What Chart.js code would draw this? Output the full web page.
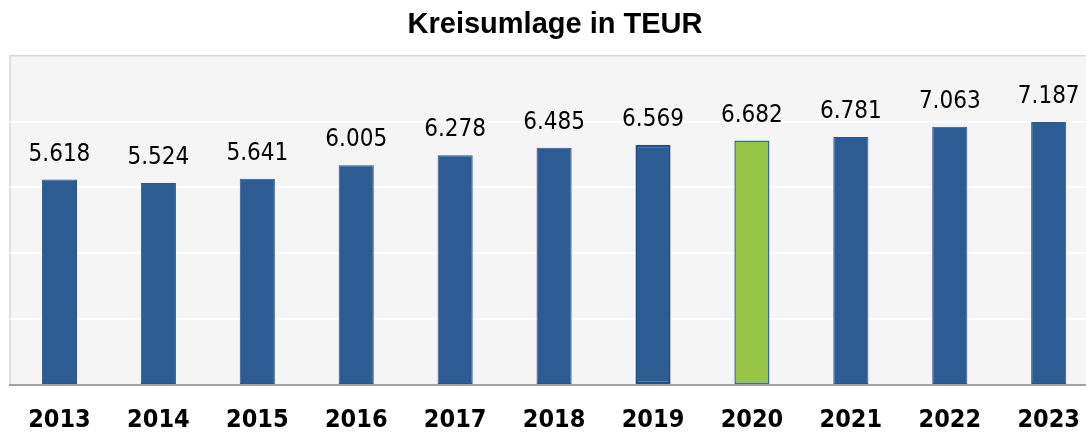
<!DOCTYPE html>
<html>
<head>
<meta charset="utf-8">
<script src="https://cdn.jsdelivr.net/npm/chart.js@4"></script>
<style>
  body { margin: 0; background: #fff; overflow: hidden; }
  #wrap { width: 1100px; height: 432px; }
</style>
</head>
<body>
<div id="wrap"><canvas id="umlageChart"></canvas></div>
<script>
const years = ['2013', '2014', '2015', '2016', '2017', '2018', '2019', '2020', '2021', '2022', '2023'];
const umlage = [5618, 5524, 5641, 6005, 6278, 6485, 6569, 6682, 6781, 7063, 7187];
const valueLabels = ['5.618', '5.524', '5.641', '6.005', '6.278', '6.485', '6.569', '6.682', '6.781', '7.063', '7.187'];

const blue = '#2d5c92';
const green = '#95c447';

const ctx = document.getElementById('umlageChart').getContext('2d');

// plot background + top/left border
const plotBackground = {
    id: 'plotBackground',
    beforeDraw(chart) {
        const a = chart.chartArea;
        const c = chart.ctx;
        c.save();
        c.fillStyle = '#f5f5f5';
        c.fillRect(a.left, a.top, a.right - a.left, a.bottom - a.top);
        c.strokeStyle = '#d9d9d9';
        c.lineWidth = 1.5;
        c.beginPath();
        c.moveTo(a.left, a.bottom);
        c.lineTo(a.left, a.top);
        c.lineTo(a.right, a.top);
        c.stroke();
        c.restore();
    }
};

// value labels above bars
const barLabels = {
    id: 'barLabels',
    afterDatasetsDraw(chart) {
        const c = chart.ctx;
        const meta = chart.getDatasetMeta(0);
        c.save();
        c.font = '24px "DejaVu Sans Condensed", "Liberation Sans", sans-serif';
        c.fillStyle = '#000';
        c.textAlign = 'center';
        c.textBaseline = 'alphabetic';
        meta.data.forEach((bar, i) => {
            c.fillText(valueLabels[i], bar.x, bar.y - 19);
        });
        c.restore();
    }
};

new Chart(ctx, {
    type: 'bar',
    data: {
        labels: years,
        datasets: [{
            data: umlage,
            backgroundColor: years.map(y => y === '2020' ? green : blue),
            borderColor: years.map(y => y === '2020' ? '#3c68a0' : (y === '2019' ? '#245089' : '#2a568b')),
            borderWidth: years.map(y => y === '2020' ? 1.5 : (y === '2019' ? 2.5 : 1)),
            borderSkipped: false,
            barPercentage: 0.355,
            categoryPercentage: 1,
        }],
    },
    options: {
        responsive: true,
        maintainAspectRatio: false,
        animation: false,
        layout: { padding: { left: 10, right: 0, top: 0, bottom: -23 } },
        plugins: {
            legend: { display: false },
            tooltip: { enabled: false },
            title: {
                display: true,
                text: 'Kreisumlage in TEUR',
                color: '#000',
                font: { family: '"Liberation Sans", Arial, sans-serif', size: 29, weight: 'bold', lineHeight: 1.2 },
                padding: { top: 8, bottom: 13 },
            },
        },
        scales: {
            x: {
                grid: { display: false, drawTicks: false },
                border: { display: true, color: '#a0a0a0', width: 2, z: 1 },
                ticks: {
                    color: '#000',
                    padding: 20,
                    font: { family: '"DejaVu Sans Condensed", "DejaVu Sans", sans-serif', size: 25, weight: 'bold', lineHeight: 1.2 },
                },
            },
            y: {
                min: 0,
                max: 9000,
                ticks: { display: false, stepSize: 2000 },
                grid: {
                    drawTicks: false,
                    lineWidth: 2,
                    color: c => (c.tick && c.tick.value === 9000) ? 'rgba(0,0,0,0)' : '#ffffff',
                },
                border: { display: false },
            },
        },
    },
    plugins: [plotBackground, barLabels],
});
</script>
</body>
</html>
